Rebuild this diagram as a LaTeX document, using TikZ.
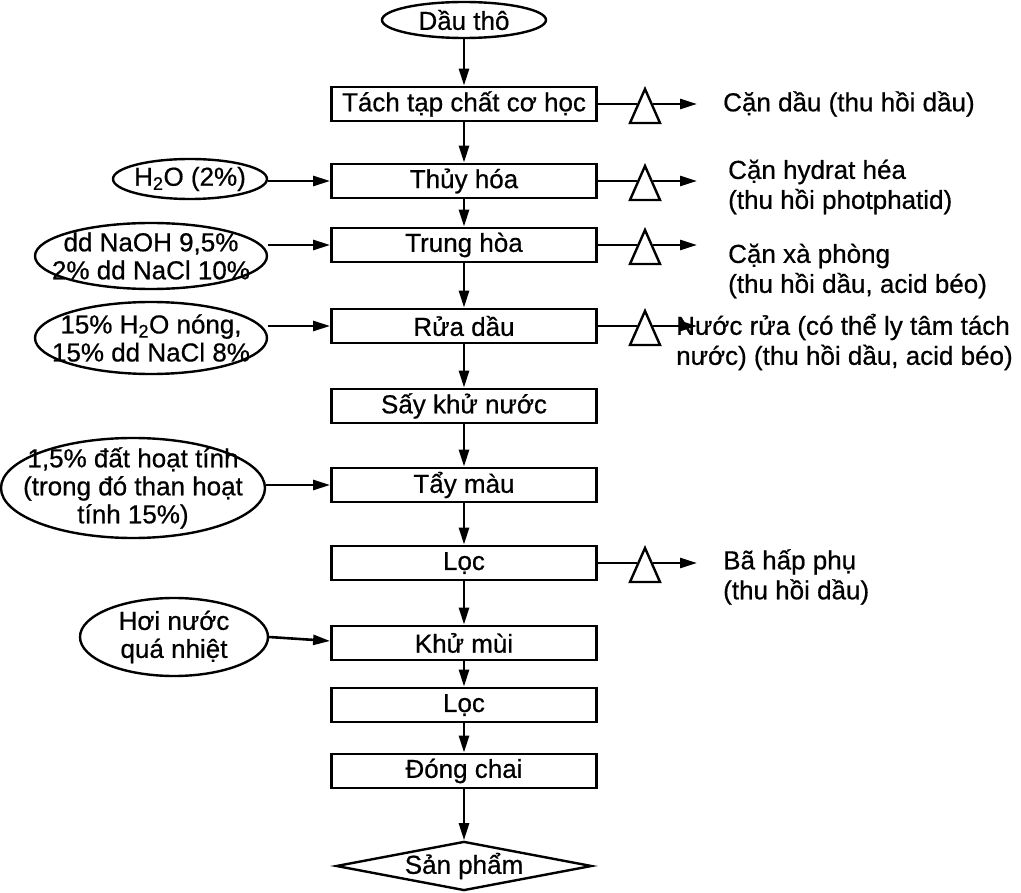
\documentclass[tikz,border=0pt]{standalone}
\usepackage{fontspec}
\setmainfont{Liberation Sans}[FakeBold=0.6,AutoFakeBold=0.6]
\usetikzlibrary{shapes.geometric,arrows.meta}
\begin{document}
\begin{tikzpicture}[x=1pt,y=-1pt,
  every node/.style={font=\fontsize{26}{30}\selectfont},
  ln/.style={line width=2.8pt},
  proc/.style={draw, line width=2.8pt, minimum width=265pt, minimum height=34pt, inner sep=0pt},
  oval/.style={draw, ellipse, line width=2.4pt, inner sep=0pt},
  trishape/.style={draw, line width=2.4pt, fill=white, line join=miter},
  arr/.style={line width=2.6pt, -{Triangle[length=17pt,width=10pt]}},
  lbl/.style={align=left, anchor=west, inner sep=0pt},
  txt/.style={align=center, inner sep=0pt, font=\fontsize{26}{28}\selectfont}]
\fill[white] (0,0) rectangle (1021,893);
\useasboundingbox (0,0) rectangle (1021,893);

% main column
\node[oval, minimum width=164pt, minimum height=36pt] (d0) at (464,20) {};
\node[txt] (d0t) at (d0) {Dầu thô};
\node[proc] (b1) at (464,104) {Tách tạp chất cơ học};
\node[proc] (b2) at (464,181) {Thủy hóa};
\node[proc] (b3) at (464,245) {Trung hòa};
\node[proc] (b4) at (464,326) {Rửa dầu};
\node[proc] (b5) at (464,406) {Sấy khử nước};
\node[proc] (b6) at (464,485) {Tẩy màu};
\node[proc] (b7) at (464,563) {Lọc};
\node[proc] (b8) at (464,643) {Khử mùi};
\node[proc] (b9) at (464,705) {Lọc};
\node[proc] (b10) at (464,771) {Đóng chai};
\node[draw, diamond, aspect=5.2, minimum width=248pt, minimum height=48pt, inner sep=0pt, line width=2.4pt] (sp) at (464,866) {Sản phẩm};

\draw[arr] (d0) -- (b1);
\draw[arr] (b1) -- (b2);
\draw[arr] (b2) -- (b3);
\draw[arr] (b3) -- (b4);
\draw[arr] (b4) -- (b5);
\draw[arr] (b5) -- (b6);
\draw[arr] (b6) -- (b7);
\draw[arr] (b7) -- (b8);
\draw[arr] (b8) -- (b9);
\draw[arr] (b9) -- (b10);
\draw[arr] (b10) -- (sp);

% left inputs
\node[oval, minimum width=154pt, minimum height=40pt] (e1) at (190,179) {};
\node[txt] (e1t) at (e1) {H\textsubscript{2}O (2\%)};
\node[oval, minimum width=232pt, minimum height=66pt] (e2) at (151,256) {};
\node[txt] (e2t) at (e2) {dd NaOH 9,5\%\\2\% dd NaCl 10\%};
\node[oval, minimum width=232pt, minimum height=72pt] (e3) at (151,338) {};
\node[txt] (e3t) at (e3) {15\% H\textsubscript{2}O nóng,\\15\% dd NaCl 8\%};
\node[oval, minimum width=264pt, minimum height=100pt] (e4) at (133,488) {};
\node[txt] (e4t) at (e4) {1,5\% đất hoạt tính\\(trong đó than hoạt\\tính 15\%)};
\node[oval, minimum width=188pt, minimum height=78pt] (e5) at (174,637) {};
\node[txt] (e5t) at (e5) {Hơi nước\\quá nhiệt};

\draw[arr] (e1.east |- b2.west) -- (b2.west);
\draw[arr] (e2.east |- b3.west) -- (b3.west);
\draw[arr] (e3.east |- b4.west) -- (b4.west);
\draw[arr] (e4.east |- b6.west) -- (b6.west);
\draw[arr] (e5.east) -- ([yshift=2pt]b8.west);

% right outputs with triangles
\foreach \n/\y in {1/104,2/181,3/245,4/326,7/563}{
  \coordinate (tl\n) at (637,\y);
  \coordinate (tr\n) at (653,\y);
  \coordinate (oe\n) at (697,\y);
  \draw[ln] (b\n.east) -- (tl\n);
  \draw[trishape] (645,\y-15) -- (660,\y+19) -- (630,\y+19) -- cycle;
  \draw[arr] (tr\n) -- (oe\n);
}

\node[lbl] (o1) at (723,104) {Cặn dầu (thu hồi dầu)};
\node[lbl] (o2) at (728,187) {Cặn hydrat héa\\(thu hồi photphatid)};
\node[lbl] (o3) at (728,271) {Cặn xà phòng\\(thu hồi dầu, acid béo)};
\node[lbl] (o4) at (676,342) {Nước rửa (có thể ly tâm tách\\nước) (thu hồi dầu, acid béo)};
\node[lbl] (o7) at (723,577) {Bã hấp phụ\\(thu hồi dầu)};
\end{tikzpicture}
\end{document}
